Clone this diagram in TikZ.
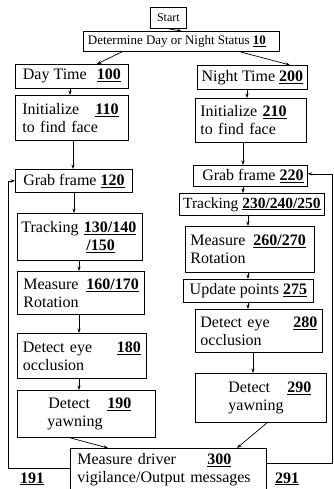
\documentclass[tikz,border=0pt]{standalone}
\usepackage{fontspec}
\setmainfont{Liberation Serif}
\usetikzlibrary{arrows.meta}
\newcommand\ulnum[1]{\underline{\textbf{#1}}}
\begin{document}
\begin{tikzpicture}[x=1pt,y=-1pt,
  every node/.style={font=\fontsize{16}{18}\selectfont},
  bx/.style n args={2}{draw, line width=0.8pt, anchor=north west, inner sep=0pt,
     minimum width=#1pt, minimum height=#2pt},
  tb/.style n args={4}{bx={#1}{#2}, align=left, inner xsep=#3pt, text width=#4pt},
  arr/.style={-{Stealth[length=4.5pt,width=3.2pt]}, line width=0.7pt},
  lab/.style={anchor=base west, inner sep=0pt}]
\useasboundingbox (0,0) rectangle (333,489);

\node[bx={36}{21}, font=\fontsize{12}{14}\selectfont] (start) at (150,7) {Start};
\node[bx={196}{20}, font=\fontsize{13}{15}\selectfont] (det) at (83,31) {Determine Day or Night Status \ulnum{10}\hspace*{9pt}};

\node[bx={113}{24}] (day) at (15,64) {\makebox[74pt][l]{Day Time}\ulnum{100}};
\node[bx={110}{24}] (night) at (197,65) {Night Time \ulnum{200}};

\node[tb={113}{45}{7}{99}] (i110) at (15,95) {\makebox[73pt][l]{Initialize}\ulnum{110}\\to find face};
\node[tb={111}{44}{5}{101}] (i210) at (195,98) {Initialize \ulnum{210}\\to find face};

\node[bx={117}{23}] (g120) at (15,169) {Grab frame \ulnum{120}};
\node[bx={114}{21}] (g220) at (193,165) {\hspace*{5pt}Grab frame \ulnum{220}};

\node[tb={125}{47}{4}{117}] (t130) at (17,213) {\mbox{Tracking \ulnum{130/140}}\\\hspace*{65pt}\ulnum{/150}};
\node[bx={145}{22}, font=\fontsize{15.5}{17}\selectfont] (t230) at (179,193) {Tracking \ulnum{230/240/250}};

\node[tb={127}{43}{6}{115}] (m160) at (17,271) {\makebox[63pt][l]{Measure}\ulnum{160/170}\\Rotation};
\node[tb={129}{46}{5}{119}] (m260) at (185,226) {\makebox[63pt][l]{Measure}\ulnum{260/270}\\Rotation};

\node[bx={130}{23}] (u275) at (183,279) {Update points \ulnum{275}};

\node[tb={129}{45}{5.5}{118}] (d180) at (17,333) {\makebox[94pt][l]{Detect eye}\ulnum{180}\\occlusion};
\node[tb={127}{43}{5}{117}] (d280) at (195,309) {\makebox[93pt][l]{Detect eye}\ulnum{280}\\occlusion};

\node[tb={138}{47}{6}{126}] (d190) at (17,390) {\hspace*{25pt}\makebox[59pt][l]{Detect}\ulnum{190}\\\hspace*{24pt}yawning};
\node[tb={131}{49}{6}{119}] (d290) at (195,373) {\hspace*{27pt}\makebox[59pt][l]{Detect}\ulnum{290}\\\hspace*{27pt}yawning};

\node[tb={196}{43}{7}{182}] (m300) at (70,448) {\makebox[130pt][l]{Measure driver}\ulnum{300}\\vigilance/Output messages};

\node[lab] (l191) at (20,483) {\ulnum{191}};
\node[lab] (l291) at (275,483) {\ulnum{291}};

\draw[arr] (start.south) -- (det.north);
\draw[arr] (det.south -| 122,0) -- (day.north -| 97,0);
\draw[arr] (det.south -| 240,0) -- (night.north -| 290,0);
\draw[arr] (day.south -| 70,0) -- (i110.north -| 70,0);
\draw[arr] (night.south -| 247,0) -- (i210.north -| 247,0);
\draw[arr] (i110.south -| 73,0) -- (g120.north -| 73,0);
\draw[arr] (i210.south -| 243,0) -- (g220.north -| 243,0);
\draw[arr] (g120.south -| 74,0) -- (t130.north -| 74,0);
\draw[arr] (g220.south -| 243,0) -- (t230.north -| 243,0);
\draw[arr] (t130.south -| 79,0) -- (m160.north -| 79,0);
\draw[arr] (m160.south -| 79,0) -- (d180.north -| 79,0);
\draw[arr] (d180.south -| 79,0) -- (d190.north -| 79,0);
\draw[arr] (t230.south -| 248,0) -- (m260.north -| 248,0);
\draw[arr] (m260.south -| 248,0) -- (u275.north -| 248,0);
\draw[arr] (u275.south -| 248,0) -- (d280.north -| 248,0);
\draw[arr] (d280.south -| 253,0) -- (d290.north -| 253,0);
\draw[arr] (d190.south -| 70,0) -- (m300.north -| 108,0);
\draw[arr] (d290.south -| 267,0) -- (m300.north -| 237,0);

\coordinate (lc) at (8,468);
\draw[arr] (m300.west |- lc) -- (lc) |- (g120.west);
\coordinate (rc) at (332,463);
\draw[arr] (m300.east |- rc) -- (rc) |- ([yshift=2pt]g220.east);
\end{tikzpicture}
\end{document}
